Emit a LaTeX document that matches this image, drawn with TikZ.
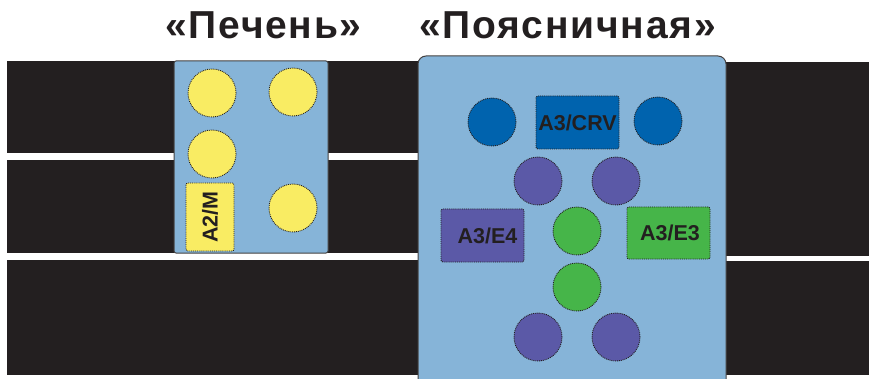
\documentclass[tikz,border=0pt]{standalone}
\usepackage{fontspec}
\setmainfont{Liberation Sans}
\definecolor{barc}{HTML}{231F20}
\definecolor{panelc}{HTML}{86B4D8}
\definecolor{yelc}{HTML}{F9EC63}
\definecolor{crvc}{HTML}{0063AE}
\definecolor{purc}{HTML}{5B59A7}
\definecolor{grnc}{HTML}{46B549}
\tikzset{
  site/.style={circle,draw=barc,densely dotted,line width=0.9pt,
    minimum size=48pt,inner sep=0pt},
  tag/.style={rectangle,rounded corners=2pt,draw=barc,densely dotted,
    line width=0.9pt,inner sep=0pt,text=barc,
    font=\bfseries\fontsize{21.5}{22}\selectfont},
  panel/.style={draw=barc!85,line width=1pt,fill=panelc},
  title/.style={anchor=base,text=barc,
    font=\bfseries\fontsize{39}{39}\selectfont\addfontfeatures{LetterSpace=4.5}}
}

\begin{document}
\begin{tikzpicture}[x=1pt,y=-1pt]
   \useasboundingbox (0,0) rectangle (869,379);
   % black belts
   \fill[barc] (7,61) rectangle (418,153);
   \fill[barc] (7,160) rectangle (418,253);
   \fill[barc] (7,260) rectangle (418,375);
   \fill[barc] (726,62) rectangle (869,256);
   \fill[barc] (726,261) rectangle (869,375);
   % panels
   \draw[panel,rounded corners=2pt] (174,61) rectangle (328,253);
   \draw[panel,rounded corners=8pt] (418,56) rectangle (726,420);
   % titles
   \node[title] (tLiver) at (263.5,39) {«Печень»};
   \node[title] (tLumbar) at (567.5,39) {«Поясничная»};
   % liver sites
   \node[site,fill=yelc] (L1) at (212,93) {};
   \node[site,fill=yelc] (L2) at (293,92) {};
   \node[site,fill=yelc] (L3) at (212,154) {};
   \node[site,fill=yelc] (L4) at (293,208) {};
   \node[tag,fill=yelc,rotate=90,minimum width=68pt,minimum height=48pt]
     (A2M) at (210,217) {A2/M};
   % lumbar sites
   \node[site,fill=crvc] (C1) at (492,122) {};
   \node[site,fill=crvc] (C2) at (658,121) {};
   \node[tag,fill=crvc,minimum width=83pt,minimum height=53pt]
     (A3CRV) at (577.5,122.5) {A3/CRV};
   \node[site,fill=purc] (P1) at (538,181) {};
   \node[site,fill=purc] (P2) at (616,181) {};
   \node[tag,fill=purc,minimum width=83pt,minimum height=53pt]
     (A3E4) at (482.5,235.5) {\hspace{10pt}A3/E4};
   \node[site,fill=grnc] (G1) at (577,231) {};
   \node[tag,fill=grnc,minimum width=83pt,minimum height=52pt]
     (A3E3) at (668.5,233) {\hspace{3pt}A3/E3};
   \node[site,fill=grnc] (G2) at (577,287) {};
   \node[site,fill=purc] (P3) at (538,337) {};
   \node[site,fill=purc] (P4) at (616,337) {};
\end{tikzpicture}
\end{document}
